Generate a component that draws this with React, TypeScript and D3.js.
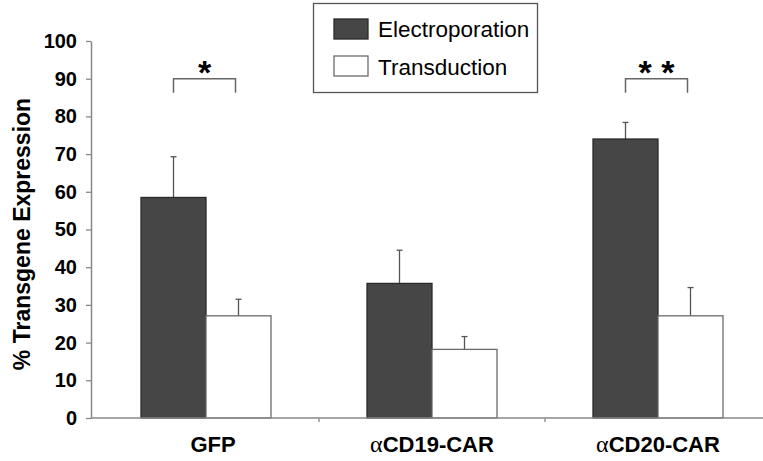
import * as React from 'react';
import * as d3 from 'd3';

const categories = ['GFP', 'αCD19-CAR', 'αCD20-CAR'];
const seriesNames = ['Electroporation', 'Transduction'];
const electroporation = [58.5, 35.7, 74.0];
const electroporationErr = [10.8, 8.8, 4.4];
const transduction = [27.1, 18.2, 27.1];
const transductionErr = [4.4, 3.4, 7.5];
const yTicks = [0, 10, 20, 30, 40, 50, 60, 70, 80, 90, 100];
const significance = [
  { category: 'GFP', label: '*', level: 90 },
  { category: 'αCD20-CAR', label: '* *', level: 90 }
];

const W = 763;
const H = 461;
const FONT = "'Liberation Sans', Arial, sans-serif";

const App = () => {
  const nodeRef = React.useRef<SVGSVGElement>(null);

  React.useEffect(() => {
    const svg = d3.select(nodeRef.current);
    svg.selectAll('*').remove();

    const left = 91;
    const y = d3.scaleLinear().domain([0, 100]).range([418, 41]);
    const x0 = d3.scaleBand().domain(categories).range([93, 771]);
    const x1 = d3
      .scaleBand()
      .domain(seriesNames)
      .range([x0.bandwidth() / 2 - 65, x0.bandwidth() / 2 + 65]);

    const values = [electroporation, transduction];
    const errors = [electroporationErr, transductionErr];
    const fills = ['#464646', '#ffffff'];
    const strokes = ['#2a2a2a', '#6a6a6a'];

    const rows = [];
    categories.forEach((c, i) => {
      seriesNames.forEach((s, j) => {
        rows.push({ c, s, v: values[j][i], e: errors[j][i], j });
      });
    });

    // error bars (drawn under bars)
    const eb = svg.append('g').attr('stroke', '#555').attr('stroke-width', 1.3);
    rows.forEach(d => {
      const cx = x0(d.c) + x1(d.s) + x1.bandwidth() / 2;
      eb.append('line')
        .attr('x1', cx).attr('x2', cx)
        .attr('y1', y(d.v)).attr('y2', y(d.v + d.e));
      eb.append('line')
        .attr('x1', cx - 3).attr('x2', cx + 3)
        .attr('y1', y(d.v + d.e)).attr('y2', y(d.v + d.e));
    });

    svg.append('g')
      .selectAll('rect')
      .data(rows)
      .enter()
      .append('rect')
      .attr('x', d => x0(d.c) + x1(d.s))
      .attr('y', d => y(d.v))
      .attr('width', x1.bandwidth())
      .attr('height', d => y(0) - y(d.v))
      .attr('fill', d => fills[d.j])
      .attr('stroke', d => strokes[d.j])
      .attr('stroke-width', 1.3);

    // y axis
    const ya = svg.append('g')
      .attr('transform', 'translate(' + left + ',0)')
      .call(d3.axisLeft(y).tickValues(yTicks).tickSize(5).tickSizeOuter(0).tickPadding(9));
    ya.select('.domain').attr('stroke', '#888').attr('stroke-width', 1.5);
    ya.selectAll('.tick line').attr('stroke', '#888').attr('stroke-width', 1.3);
    ya.selectAll('.tick text')
      .attr('font-family', FONT)
      .attr('font-weight', 'bold')
      .attr('font-size', 20)
      .attr('fill', '#000');

    // x axis
    svg.append('line')
      .attr('x1', left).attr('x2', W)
      .attr('y1', y(0)).attr('y2', y(0))
      .attr('stroke', '#888').attr('stroke-width', 1.5);
    categories.slice(1).forEach(c => {
      svg.append('line')
        .attr('x1', x0(c)).attr('x2', x0(c))
        .attr('y1', y(0)).attr('y2', y(0) + 4)
        .attr('stroke', '#888').attr('stroke-width', 1.3);
    });
    const cl = svg.append('g')
      .selectAll('text')
      .data(categories)
      .enter()
      .append('text')
      .attr('x', (d, i) => x0(d) + x0.bandwidth() / 2 + (i === 0 ? 7 : 0))
      .attr('y', 452)
      .attr('text-anchor', 'middle')
      .attr('font-family', FONT)
      .attr('font-weight', 'bold')
      .attr('font-size', 22);
    cl.each(function (d) {
      const t = d3.select(this);
      if (d.startsWith('α')) {
        t.append('tspan')
          .attr('font-family', "'Liberation Serif', 'DejaVu Serif', serif")
          .attr('font-weight', 'normal')
          .attr('font-size', 24)
          .text('α');
        t.append('tspan').text(d.slice(1));
      } else {
        t.text(d);
      }
    });

    // y title
    svg.append('text')
      .attr('transform', 'translate(30,234) rotate(-90)')
      .attr('text-anchor', 'middle')
      .attr('font-family', FONT)
      .attr('font-weight', 'bold')
      .attr('font-size', 23)
      .text('% Transgene Expression');

    // significance brackets
    significance.forEach(sg => {
      const xa = x0(sg.category) + x1(seriesNames[0]) + x1.bandwidth() / 2;
      const xb = x0(sg.category) + x1(seriesNames[1]) + x1.bandwidth() / 2 - 3;
      const yb = y(sg.level);
      svg.append('path')
        .attr('d', `M${xa},${yb + 14}V${yb}H${xb}V${yb + 14}`)
        .attr('fill', 'none')
        .attr('stroke', '#666')
        .attr('stroke-width', 1.5);
      svg.append('text')
        .attr('x', (xa + xb) / 2)
        .attr('y', yb + 5)
        .attr('text-anchor', 'middle')
        .attr('font-family', FONT)
        .attr('font-weight', 'bold')
        .attr('font-size', 34)
        .text(sg.label);
    });

    // legend
    const lg = svg.append('g');
    lg.append('rect')
      .attr('x', 313.5).attr('y', 3.5)
      .attr('width', 224).attr('height', 89)
      .attr('fill', '#fff').attr('stroke', '#555').attr('stroke-width', 1.3);
    seriesNames.forEach((s, j) => {
      lg.append('rect')
        .attr('x', 334).attr('y', 19 + j * 37)
        .attr('width', 34).attr('height', 20)
        .attr('fill', fills[j]).attr('stroke', strokes[j]).attr('stroke-width', 1.3);
      lg.append('text')
        .attr('x', 378).attr('y', 37 + j * 38)
        .attr('font-family', FONT)
        .attr('font-size', 22.5)
        .text(s);
    });
  }, []);

  return (
    <svg
      ref={nodeRef}
      width={W}
      height={H}
      style={{ position: 'absolute', left: 0, top: 0, background: '#fff' }}
    />
  );
};

export default App;
